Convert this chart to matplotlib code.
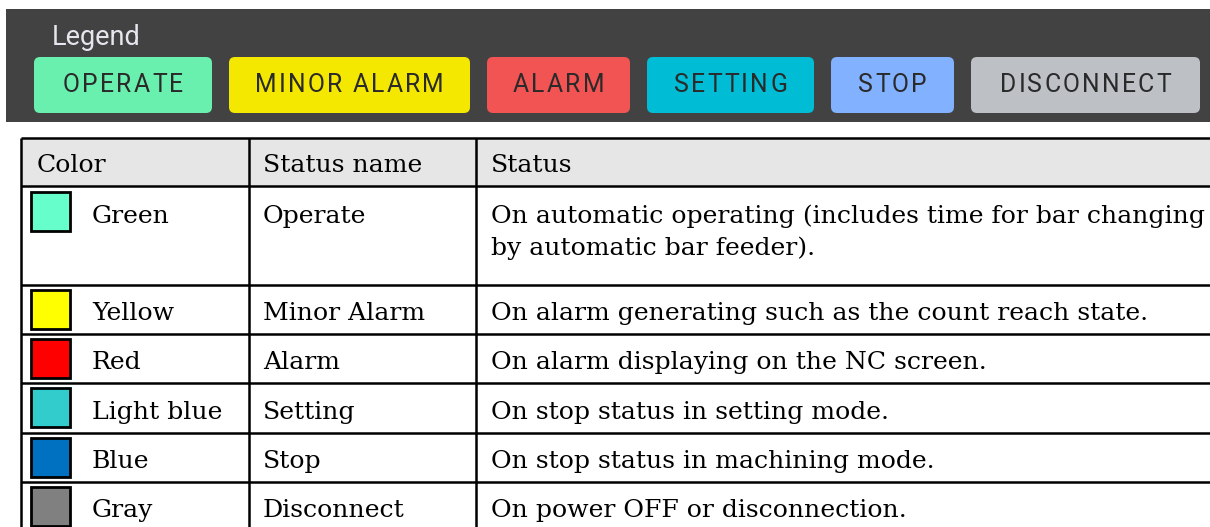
import matplotlib
matplotlib.use("Agg")
import matplotlib.pyplot as plt
from matplotlib.patches import FancyBboxPatch, Rectangle
from matplotlib import font_manager
from matplotlib.ft2font import FT2Font

# ---------------- data ----------------
legend_title = "Legend"
legend_labels = ["OPERATE", "MINOR ALARM", "ALARM", "SETTING", "STOP", "DISCONNECT"]
legend_colors = ["#69F0AE", "#F5E800", "#F25353", "#00BCD4", "#82B1FF", "#BDC1C6"]

header = ["Color", "Status name", "Status"]
color_names = ["Green", "Yellow", "Red", "Light blue", "Blue", "Gray"]
swatch_colors = ["#66FFCC", "#FFFF00", "#FF0000", "#33CCCC", "#0070C0", "#808080"]
status_names = ["Operate", "Minor Alarm", "Alarm", "Setting", "Stop", "Disconnect"]
status_desc = [
    ["On automatic operating (includes time for bar changing", "by automatic bar feeder)."],
    ["On alarm generating such as the count reach state."],
    ["On alarm displaying on the NC screen."],
    ["On stop status in setting mode."],
    ["On stop status in machining mode."],
    ["On power OFF or disconnection."],
]

# ---------------- layout ----------------
W, H = 1210, 527
fig = plt.figure(figsize=(W / 100, H / 100), dpi=100)
ax = fig.add_axes([0, 0, 1, 1])
ax.set_xlim(0, W)
ax.set_ylim(H, 0)
ax.axis("off")

# dark legend bar
ax.add_patch(Rectangle((6, 9), W - 6, 113, facecolor="#424242", edgecolor="none"))
ax.text(52, 45, legend_title, family="Roboto", fontsize=19.5, color="#E6E6EE",
        ha="left", va="baseline")

btn_edges = [(34, 212), (229, 470), (487, 630), (647, 814), (831, 954), (971, 1200)]
btn_top, btn_bot = 57, 113
btn_fs = 17.8
spacing = 2.2
roboto_path = font_manager.findfont(font_manager.FontProperties(family="Roboto"))
ft = FT2Font(roboto_path)
ft.set_size(btn_fs, 100)


def advance(c):
    g = ft.load_char(ord(c))
    return g.linearHoriAdvance / 65536.0


for (x0, x1), lab, col in zip(btn_edges, legend_labels, legend_colors):
    ax.add_patch(FancyBboxPatch((x0, btn_top), x1 - x0, btn_bot - btn_top,
                                boxstyle="round,pad=0,rounding_size=6",
                                facecolor=col, edgecolor="none"))
    advs = [advance(c) for c in lab]
    total = sum(advs) + spacing * (len(lab) - 1)
    x = (x0 + x1) / 2 - total / 2
    for c, a in zip(lab, advs):
        if c != " ":
            ax.text(x, 92.5, c, family="Roboto", fontsize=btn_fs, color="#2A2A2A",
                    ha="left", va="baseline")
        x += a + spacing

# table
row_edges = [138, 186, 285, 334, 383, 433, 482, 531]
col_edges = [21, 249, 476]
lw = 1.8
serif = "DejaVu Serif"
fs = 18.1

ax.add_patch(Rectangle((col_edges[0], row_edges[0]), W - col_edges[0], row_edges[1] - row_edges[0],
                       facecolor="#E6E6E6", edgecolor="none"))
for y in row_edges:
    ax.plot([col_edges[0], W + 5], [y, y], color="black", lw=lw, solid_capstyle="butt")
for x in col_edges:
    ax.plot([x, x], [row_edges[0], row_edges[-1]], color="black", lw=lw, solid_capstyle="butt")

# header
hx = [37, 263, 491]
for x, t in zip(hx, header):
    ax.text(x, (row_edges[0] + row_edges[1]) / 2 + 10, t, family=serif, fontsize=fs,
            ha="left", va="baseline", color="black")

for i in range(len(color_names)):
    top, bot = row_edges[i + 1], row_edges[i + 2]
    if len(status_desc[i]) > 1:
        base = top + 37
        sq_top = top + 6
    else:
        base = (top + bot) / 2 + 10.5
        sq_top = (top + bot) / 2 - 20
    ax.add_patch(Rectangle((31, sq_top), 39, 39, facecolor=swatch_colors[i],
                           edgecolor="black", lw=2.0))
    ax.text(92, base, color_names[i], family=serif, fontsize=fs, ha="left", va="baseline")
    ax.text(263, base, status_names[i], family=serif, fontsize=fs, ha="left", va="baseline")
    for k, line in enumerate(status_desc[i]):
        ax.text(491, base + 32 * k, line, family=serif, fontsize=fs, ha="left", va="baseline")

fig.savefig("out.png", dpi=100, facecolor="white")
